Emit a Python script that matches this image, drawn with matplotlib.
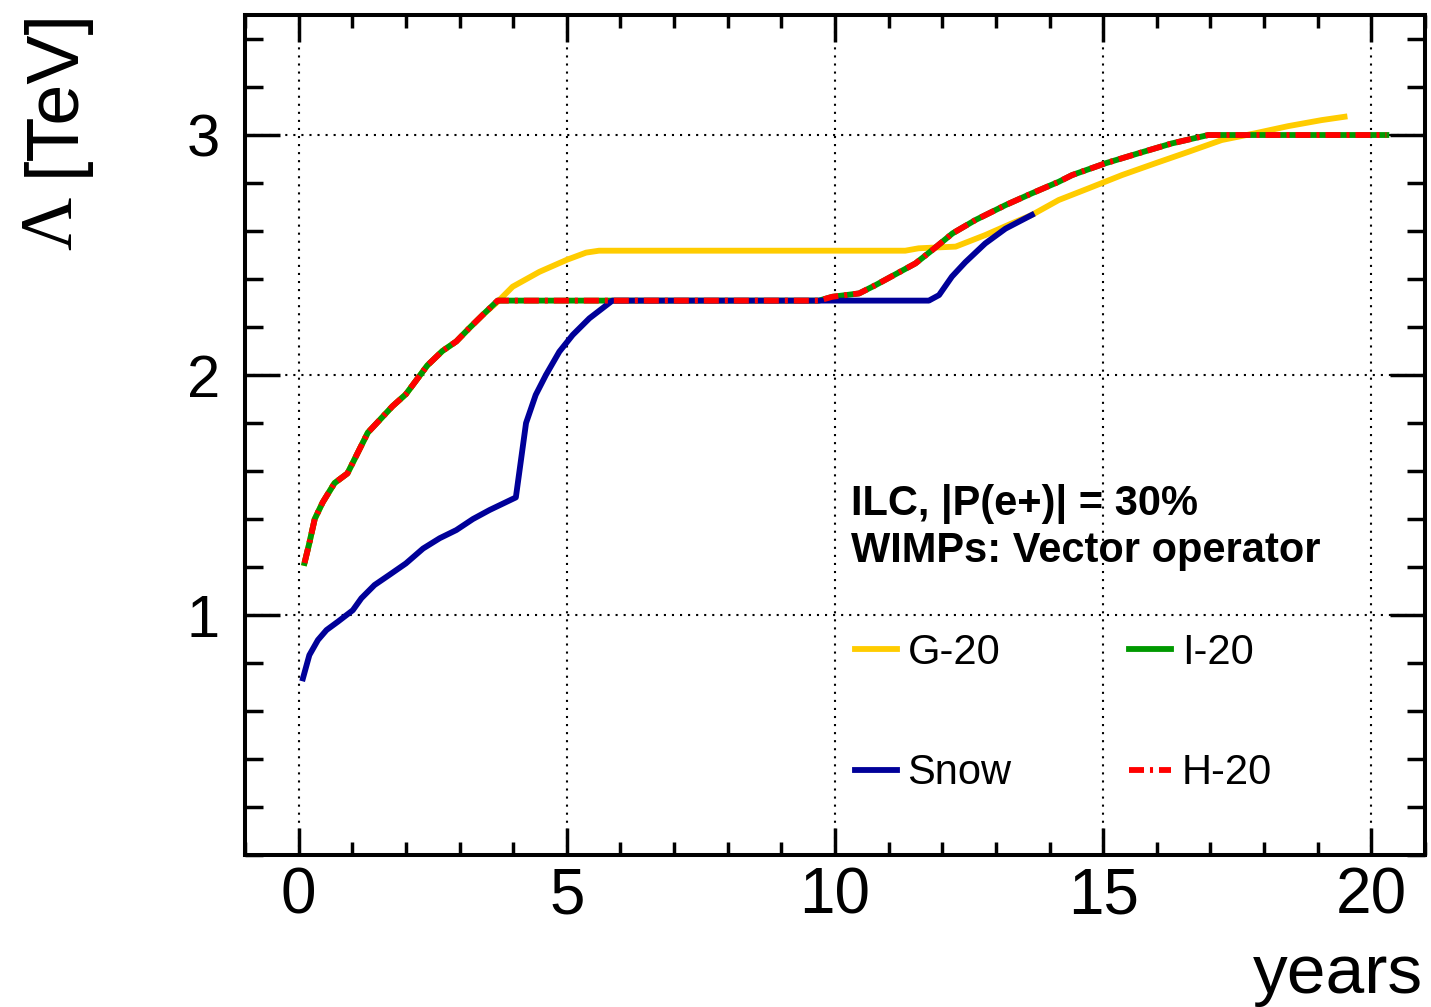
import matplotlib
matplotlib.use('Agg')
import matplotlib.pyplot as plt
from matplotlib.ticker import MultipleLocator, FixedLocator

plt.rcParams['font.family'] = ['Liberation Sans', 'DejaVu Sans']
plt.rcParams['lines.scale_dashes'] = False

# sensitivity to the suppression scale vs. running time, per ILC scenario
g20_years = [0.11, 0.2, 0.3, 0.45, 0.67, 0.91, 1.1, 1.29, 1.5, 1.75, 2.0, 2.2, 2.4,
             2.68, 2.94, 3.18, 3.43, 3.71, 3.99, 4.49, 5.0, 5.36, 5.6, 11.31, 11.56,
             12.25, 12.8, 13.3, 13.67, 14.17, 14.73, 15.35, 15.97, 16.59, 17.21,
             17.83, 18.45, 19.07, 19.5]
g20_lambda = [1.217, 1.30, 1.40, 1.47, 1.55, 1.59, 1.675, 1.76, 1.81, 1.87, 1.92, 1.98,
              2.04, 2.10, 2.14, 2.195, 2.25, 2.305, 2.368, 2.43, 2.48, 2.51, 2.518,
              2.518, 2.528, 2.535, 2.583, 2.632, 2.667, 2.729, 2.778, 2.833, 2.882,
              2.93, 2.979, 3.007, 3.037, 3.062, 3.076]

i20_years = [0.11, 0.2, 0.3, 0.45, 0.67, 0.91, 1.1, 1.29, 1.5, 1.75, 2.0, 2.2, 2.4,
             2.68, 2.94, 3.18, 3.43, 3.71, 9.7, 9.95, 10.45, 10.76, 11.13, 11.5,
             11.81, 12.19, 12.62, 13.18, 13.67, 14.17, 14.42, 15.04, 15.66, 16.28,
             16.96, 20.28]
i20_lambda = [1.217, 1.30, 1.40, 1.47, 1.55, 1.59, 1.675, 1.76, 1.81, 1.87, 1.92, 1.98,
              2.04, 2.10, 2.14, 2.195, 2.25, 2.31, 2.31, 2.326, 2.34, 2.375, 2.42,
              2.465, 2.52, 2.59, 2.646, 2.708, 2.757, 2.805, 2.833, 2.882, 2.924,
              2.965, 3.0, 3.0]

# H-20 coincides with I-20
h20_years = list(i20_years)
h20_lambda = list(i20_lambda)

snow_years = [0.08, 0.2, 0.36, 0.52, 0.73, 1.01, 1.17, 1.415, 1.69, 2.0, 2.32, 2.63,
              2.94, 3.25, 3.56, 4.05, 4.24, 4.42, 4.61, 4.86, 5.11, 5.42, 5.85, 11.75,
              11.94, 12.18, 12.43, 12.8, 13.18, 13.67]
snow_lambda = [0.736, 0.833, 0.896, 0.9375, 0.972, 1.02, 1.07, 1.125, 1.167, 1.215,
               1.277, 1.32, 1.354, 1.40, 1.4375, 1.49, 1.80, 1.917, 2.0, 2.097, 2.167,
               2.236, 2.31, 2.31, 2.333, 2.41, 2.47, 2.548, 2.61, 2.667]

y_major = [1, 2, 3]

fig = plt.figure(figsize=(14.31, 10.07), dpi=100)
ax = fig.add_axes((0.1712, 0.1509, 0.8246, 0.8342))

lw = 4.2
l_g20, = ax.plot(g20_years, g20_lambda, color='#ffcc00', lw=lw, label='G-20', zorder=3)
l_i20, = ax.plot(i20_years, i20_lambda, color='#009900', lw=lw, label='I-20', zorder=4)
l_snow, = ax.plot(snow_years, snow_lambda, color='#000099', lw=lw, label='Snow', zorder=5)
l_h20, = ax.plot(h20_years, h20_lambda, color='#ff0000', lw=lw, label='H-20', zorder=6,
                 dashes=(10.8, 4.3, 2.2, 4.3), dash_capstyle='butt')

ax.set_xlim(-1, 21)
ax.set_ylim(0, 3.5)
ax.xaxis.set_major_locator(MultipleLocator(5))
ax.xaxis.set_minor_locator(MultipleLocator(1))
ax.yaxis.set_major_locator(FixedLocator(y_major))
ax.yaxis.set_minor_locator(MultipleLocator(0.2))

ax.grid(which='major', color='black', lw=1.5, linestyle=(0, (1.5, 4.3)), zorder=1)

ax.tick_params(axis='both', which='both', direction='in', top=True, right=True, width=2.5)
ax.tick_params(axis='x', which='major', length=19.4, labelsize=46, pad=8)
ax.tick_params(axis='x', which='minor', length=9.4)
ax.tick_params(axis='y', which='major', length=25, labelsize=43, pad=18)
ax.tick_params(axis='y', which='minor', length=13)
for spine in ax.spines.values():
    spine.set_linewidth(2.9)

fig.text(1423 / 1431, 1 - 993 / 1007, 'years', fontsize=50, ha='right', va='baseline')
# y-axis title: serif Lambda as in the original, unit in sans
fig.text(54 / 1431, 1 - 8 / 1007, '[TeV]', fontsize=53, rotation=90,
         ha='center', va='top')
fig.text(54 / 1431, 1 - 250 / 1007, 'Λ', fontsize=53, rotation=90,
         ha='center', va='bottom', family='Liberation Serif')

ax.text(0.5136, 0.4048, 'ILC, |P(e+)| = 30%', transform=ax.transAxes,
        fontsize=30, fontweight='bold', va='baseline', ha='left')
ax.text(0.5136, 0.3488, 'WIMPs: Vector operator', transform=ax.transAxes,
        fontsize=30, fontweight='bold', va='baseline', ha='left')

ax.legend(handles=[l_g20, l_snow, l_i20, l_h20], ncol=2, frameon=False,
          loc='upper left', bbox_to_anchor=(0.5169, 0.2643), borderpad=0,
          borderaxespad=0, fontsize=30, handlelength=1.0, handletextpad=0.26,
          columnspacing=2.83, labelspacing=1.93)

fig.savefig('out.png', dpi=100)
